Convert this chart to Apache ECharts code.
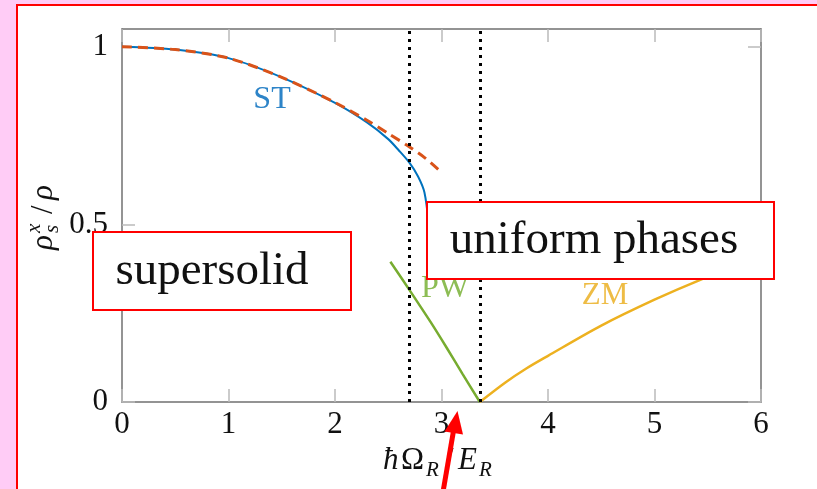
<!DOCTYPE html>
<html>
<head>
<meta charset="utf-8">
<script src="https://cdn.jsdelivr.net/npm/echarts@6/dist/echarts.min.js"></script>
<style>
  html, body { margin: 0; padding: 0; background: #ffccf6; overflow: hidden; }
  #panel { position: absolute; left: 16px; top: 4px; width: 900px; height: 600px;
           background: #ffffff; border-left: 2px solid #ff0000; border-top: 2px solid #ff0000; }
  #chart { position: absolute; left: 0; top: 0; width: 817px; height: 489px; }
</style>
</head>
<body>
<div id="panel"></div>
<div id="chart"></div>
<script>
// Superfluid fraction vs. Raman coupling
const xTicks = [0, 1, 2, 3, 4, 5, 6];
const yTicks = [0, 0.5, 1];

// stripe (ST) phase, solid
const stX = [0, 0.5, 1.0, 1.5, 2.0, 2.3, 2.5, 2.6, 2.7, 2.78, 2.84, 2.88];
const stY = [1.0, 0.992, 0.968, 0.914, 0.842, 0.787, 0.740, 0.708, 0.673, 0.635, 0.59, 0.50];

// approximation for the stripe phase, dashed
const apX = [0, 0.5, 1.0, 1.5, 2.0, 2.3, 2.5, 2.7, 2.85, 2.98];
const apY = [1.0, 0.992, 0.968, 0.914, 0.843, 0.793, 0.756, 0.718, 0.686, 0.652];

// plane-wave (PW) phase
const pwX = [2.52, 2.7, 2.9, 3.05, 3.2, 3.36];
const pwY = [0.395, 0.315, 0.224, 0.152, 0.078, 0];

// zero-momentum (ZM) phase
const zmX = [3.36, 3.6, 3.8, 4.0, 4.5, 5.0, 5.43, 6.0];
const zmY = [0, 0.055, 0.095, 0.13, 0.215, 0.288, 0.344, 0.41];

// phase boundaries
const boundaries = [2.7, 3.36];

const pair = (xs, ys) => xs.map((x, i) => [x, ys[i]]);
const serif = '"Liberation Serif", "DejaVu Serif", serif';
const frame = '#707070';
const tickCol = '#bbbbbb';

const chart = echarts.init(document.getElementById('chart'), null, { renderer: 'canvas' });

const axisLine = { show: true, onZero: false, lineStyle: { color: frame, width: 1.5 } };
const tickStyle = { show: true, inside: true, length: 13, lineStyle: { color: tickCol, width: 1.5 } };

chart.setOption({
  backgroundColor: 'transparent',
  animation: false,
  grid: { left: 122, top: 29, right: 56, bottom: 87, show: false },
  xAxis: [
    {
      type: 'value', position: 'bottom', min: 0, max: 6, interval: 1,
      axisLine: axisLine, splitLine: { show: false },
      axisTick: Object.assign({}, tickStyle, { customValues: xTicks }),
      axisLabel: { fontFamily: serif, fontSize: 31, color: '#111', margin: 7, customValues: xTicks }
    },
    {
      type: 'value', position: 'top', min: 0, max: 6, interval: 1,
      axisLine: axisLine, splitLine: { show: false },
      axisTick: Object.assign({}, tickStyle, { customValues: xTicks }),
      axisLabel: { show: false }
    }
  ],
  yAxis: [
    {
      type: 'value', position: 'left', min: 0, max: 1.05, interval: 0.5,
      axisLine: axisLine, splitLine: { show: false },
      axisTick: Object.assign({}, tickStyle, { customValues: yTicks }),
      axisLabel: { fontFamily: serif, fontSize: 31, color: '#111', margin: 14, customValues: yTicks }
    },
    {
      type: 'value', position: 'right', min: 0, max: 1.05, interval: 0.5,
      axisLine: axisLine, splitLine: { show: false },
      axisTick: Object.assign({}, tickStyle, { customValues: yTicks }),
      axisLabel: { show: false }
    }
  ],
  series: [
    {
      name: 'boundaries', type: 'line', data: [], symbol: 'none',
      markLine: {
        silent: true, symbol: 'none', label: { show: false },
        lineStyle: { color: '#000', type: [3, 5], width: 3 },
        data: boundaries.map(v => ({ xAxis: v }))
      }
    },
    {
      name: 'ST', type: 'line', data: pair(stX, stY), symbol: 'none', smooth: 0.3,
      lineStyle: { color: '#0072bd', width: 2 }
    },
    {
      name: 'approx', type: 'line', data: pair(apX, apY), symbol: 'none', smooth: 0.3,
      lineStyle: { color: '#d95319', width: 3, type: [10, 6] }
    },
    {
      name: 'PW', type: 'line', data: pair(pwX, pwY), symbol: 'none', smooth: 0.3,
      lineStyle: { color: '#77ac30', width: 2.5 }
    },
    {
      name: 'ZM', type: 'line', data: pair(zmX, zmY), symbol: 'none', smooth: 0.3,
      lineStyle: { color: '#edb120', width: 2.5 }
    }
  ],
  graphic: [
    // curve labels
    { type: 'text', z: 50, x: 272, y: 100, style: { text: 'ST', font: '32px ' + serif, fill: '#2d84c8', align: 'center', verticalAlign: 'middle' } },
    { type: 'text', z: 50, x: 445, y: 289, style: { text: 'PW', font: '32px ' + serif, fill: '#8dbd55', align: 'center', verticalAlign: 'middle' } },
    { type: 'text', z: 50, x: 605, y: 296, style: { text: 'ZM', font: '31px ' + serif, fill: '#eebc45', align: 'center', verticalAlign: 'middle' } },

    // x-axis title: ħΩ_R / E_R
    {
      type: 'group', z: 50, x: 383, y: 461,
      children: [
        { type: 'text', x: 0, y: 0, style: { text: 'ħ', font: 'italic 31px ' + serif, fill: '#111', verticalAlign: 'middle' } },
        { type: 'text', x: 18, y: 0, style: { text: 'Ω', font: '31px ' + serif, fill: '#111', verticalAlign: 'middle' } },
        { type: 'text', x: 43, y: 9, style: { text: 'R', font: 'italic 21px ' + serif, fill: '#111', verticalAlign: 'middle' } },
        { type: 'text', x: 62, y: 0, style: { text: '/', font: '31px ' + serif, fill: '#111', verticalAlign: 'middle' } },
        { type: 'text', x: 75, y: 0, style: { text: 'E', font: 'italic 31px ' + serif, fill: '#111', verticalAlign: 'middle' } },
        { type: 'text', x: 96, y: 9, style: { text: 'R', font: 'italic 21px ' + serif, fill: '#111', verticalAlign: 'middle' } }
      ]
    },

    // y-axis title: ρ_s^x / ρ, reading upward
    {
      type: 'group', z: 50, x: 44, y: 250, rotation: Math.PI / 2,
      children: [
        { type: 'text', x: 0, y: 0, style: { text: 'ρ', font: 'italic 31px ' + serif, fill: '#111', verticalAlign: 'middle' } },
        { type: 'text', x: 17, y: -10, style: { text: 'x', font: 'italic 21px ' + serif, fill: '#111', verticalAlign: 'middle' } },
        { type: 'text', x: 17, y: 8, style: { text: 's', font: 'italic 21px ' + serif, fill: '#111', verticalAlign: 'middle' } },
        { type: 'text', x: 36, y: 0, style: { text: '/', font: '31px ' + serif, fill: '#111', verticalAlign: 'middle' } },
        { type: 'text', x: 50, y: 0, style: { text: 'ρ', font: 'italic 31px ' + serif, fill: '#111', verticalAlign: 'middle' } }
      ]
    },

    // phase annotation boxes
    { type: 'rect', z: 80, shape: { x: 93, y: 232, width: 258, height: 78 }, style: { fill: '#fff', stroke: '#ff0000', lineWidth: 2 } },
    { type: 'text', z: 81, x: 212, y: 272, style: { text: 'supersolid', font: '47px ' + serif, fill: '#111', align: 'center', verticalAlign: 'middle' } },
    { type: 'rect', z: 80, shape: { x: 427, y: 202, width: 347, height: 77 }, style: { fill: '#fff', stroke: '#ff0000', lineWidth: 2 } },
    { type: 'text', z: 81, x: 594, y: 241, style: { text: 'uniform phases', font: '47px ' + serif, fill: '#111', align: 'center', verticalAlign: 'middle' } },

    // red arrow pointing at the transition
    { type: 'line', z: 90, shape: { x1: 443, y1: 492, x2: 454, y2: 428 }, style: { stroke: '#ff0000', lineWidth: 5 } },
    { type: 'polygon', z: 90, shape: { points: [[457.5, 411], [444.5, 431.5], [463, 434.5]] }, style: { fill: '#ff0000' } }
  ]
});
</script>
</body>
</html>
